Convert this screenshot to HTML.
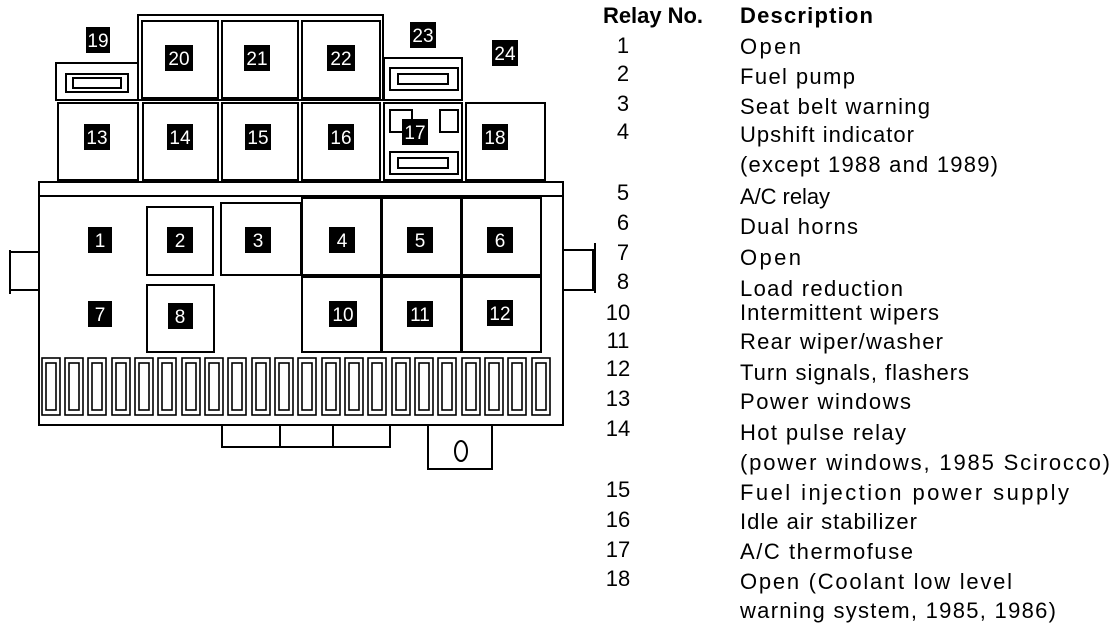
<!DOCTYPE html>
<html><head><meta charset="utf-8"><style>
html,body{margin:0;padding:0;background:#fff;}
svg{display:block}
.t{font-family:"Liberation Sans",sans-serif;font-size:22px;fill:#000}
.b{font-weight:bold}
.lb{font-family:"Liberation Sans",sans-serif;font-size:19px;fill:#fff;text-anchor:middle}
</style></head><body>
<svg width="1120" height="632" viewBox="0 0 1120 632" xmlns="http://www.w3.org/2000/svg">
<g fill="none" stroke="#000" stroke-width="2">
<rect x="138" y="15" width="245" height="85"/>
<rect x="142" y="21" width="76" height="77"/>
<rect x="222" y="21" width="76" height="77"/>
<rect x="302" y="21" width="78" height="77"/>
<rect x="56" y="63" width="82" height="37"/>
<rect x="66" y="74" width="62" height="18"/>
<rect x="73" y="78" width="48" height="10"/>
<rect x="384" y="58" width="78" height="42"/>
<rect x="390" y="68" width="68" height="22"/>
<rect x="398" y="74" width="50" height="10"/>
<rect x="58" y="103" width="80" height="77"/>
<rect x="143" y="103" width="75" height="77"/>
<rect x="222" y="103" width="76" height="77"/>
<rect x="302" y="103" width="78" height="77"/>
<rect x="384" y="103" width="78" height="77"/>
<rect x="390" y="110" width="22" height="22"/>
<rect x="440" y="110" width="18" height="22"/>
<rect x="390" y="152" width="68" height="22"/>
<rect x="398" y="158" width="50" height="10"/>
<rect x="466" y="103" width="79" height="77"/>
<rect x="39" y="182" width="524" height="14"/>
<rect x="39" y="196" width="524" height="229"/>
<rect x="147" y="207" width="66" height="68"/>
<rect x="221" y="203" width="80" height="72"/>
<rect x="302" y="198" width="79" height="77"/>
<rect x="382" y="198" width="79" height="77"/>
<rect x="462" y="198" width="79" height="77"/>
<rect x="147" y="285" width="67" height="67"/>
<rect x="302" y="277" width="79" height="75"/>
<rect x="382" y="277" width="79" height="75"/>
<rect x="462" y="277" width="79" height="75"/>
<path d="M39 252 H10 V290 H39 M10 250 V294"/>
<path d="M563 250 H593 V290 H563 M595 243 V293"/>
<rect x="222" y="425" width="168" height="22"/>
<line x1="280" y1="425" x2="280" y2="447"/><line x1="333" y1="425" x2="333" y2="447"/>
<rect x="428" y="425" width="64" height="44"/>
<ellipse cx="461" cy="451" rx="6" ry="10"/>
</g>
<g fill="none" stroke="#000" stroke-width="1.6">
<rect x="42" y="358" width="18" height="57"/><rect x="46" y="363" width="10" height="47"/>
<rect x="65" y="358" width="18" height="57"/><rect x="69" y="363" width="10" height="47"/>
<rect x="88" y="358" width="18" height="57"/><rect x="92" y="363" width="10" height="47"/>
<rect x="112" y="358" width="18" height="57"/><rect x="116" y="363" width="10" height="47"/>
<rect x="135" y="358" width="18" height="57"/><rect x="139" y="363" width="10" height="47"/>
<rect x="158" y="358" width="18" height="57"/><rect x="162" y="363" width="10" height="47"/>
<rect x="182" y="358" width="18" height="57"/><rect x="186" y="363" width="10" height="47"/>
<rect x="205" y="358" width="18" height="57"/><rect x="209" y="363" width="10" height="47"/>
<rect x="228" y="358" width="18" height="57"/><rect x="232" y="363" width="10" height="47"/>
<rect x="252" y="358" width="18" height="57"/><rect x="256" y="363" width="10" height="47"/>
<rect x="275" y="358" width="18" height="57"/><rect x="279" y="363" width="10" height="47"/>
<rect x="298" y="358" width="18" height="57"/><rect x="302" y="363" width="10" height="47"/>
<rect x="322" y="358" width="18" height="57"/><rect x="326" y="363" width="10" height="47"/>
<rect x="345" y="358" width="18" height="57"/><rect x="349" y="363" width="10" height="47"/>
<rect x="368" y="358" width="18" height="57"/><rect x="372" y="363" width="10" height="47"/>
<rect x="392" y="358" width="18" height="57"/><rect x="396" y="363" width="10" height="47"/>
<rect x="415" y="358" width="18" height="57"/><rect x="419" y="363" width="10" height="47"/>
<rect x="438" y="358" width="18" height="57"/><rect x="442" y="363" width="10" height="47"/>
<rect x="462" y="358" width="18" height="57"/><rect x="466" y="363" width="10" height="47"/>
<rect x="485" y="358" width="18" height="57"/><rect x="489" y="363" width="10" height="47"/>
<rect x="508" y="358" width="18" height="57"/><rect x="512" y="363" width="10" height="47"/>
<rect x="532" y="358" width="18" height="57"/><rect x="536" y="363" width="10" height="47"/>
</g>
<g>
<rect x="86" y="27" width="24" height="26"/><text class="lb" x="98" y="47">19</text>
<rect x="165" y="45" width="28" height="26"/><text class="lb" x="179" y="65">20</text>
<rect x="244" y="45" width="26" height="26"/><text class="lb" x="257" y="65">21</text>
<rect x="327" y="45" width="28" height="26"/><text class="lb" x="341" y="65">22</text>
<rect x="410" y="22" width="26" height="26"/><text class="lb" x="423" y="42">23</text>
<rect x="492" y="40" width="26" height="26"/><text class="lb" x="505" y="60">24</text>
<rect x="84" y="124" width="26" height="26"/><text class="lb" x="97" y="144">13</text>
<rect x="167" y="124" width="26" height="26"/><text class="lb" x="180" y="144">14</text>
<rect x="245" y="124" width="26" height="26"/><text class="lb" x="258" y="144">15</text>
<rect x="328" y="124" width="26" height="26"/><text class="lb" x="341" y="144">16</text>
<rect x="402" y="119" width="26" height="26"/><text class="lb" x="415" y="139">17</text>
<rect x="482" y="124" width="26" height="26"/><text class="lb" x="495" y="144">18</text>
<rect x="88" y="227" width="24" height="26"/><text class="lb" x="100" y="247">1</text>
<rect x="167" y="227" width="26" height="26"/><text class="lb" x="180" y="247">2</text>
<rect x="245" y="227" width="26" height="26"/><text class="lb" x="258" y="247">3</text>
<rect x="329" y="227" width="26" height="26"/><text class="lb" x="342" y="247">4</text>
<rect x="407" y="227" width="26" height="26"/><text class="lb" x="420" y="247">5</text>
<rect x="487" y="227" width="26" height="26"/><text class="lb" x="500" y="247">6</text>
<rect x="88" y="301" width="24" height="26"/><text class="lb" x="100" y="321">7</text>
<rect x="168" y="303" width="25" height="26"/><text class="lb" x="180" y="323">8</text>
<rect x="329" y="301" width="28" height="26"/><text class="lb" x="343" y="321">10</text>
<rect x="407" y="301" width="26" height="26"/><text class="lb" x="420" y="321">11</text>
<rect x="487" y="300" width="26" height="26"/><text class="lb" x="500" y="320">12</text>
</g>
<g class="t">
<text class="t b" x="603" y="23" textLength="100">Relay No.</text>
<text class="t b" x="740" y="23" textLength="133">Description</text>
<g text-anchor="middle">
<text x="623" y="53">1</text><text x="623" y="81">2</text><text x="623" y="111">3</text><text x="623" y="139">4</text>
<text x="623" y="200">5</text><text x="623" y="230">6</text><text x="623" y="260">7</text><text x="623" y="289">8</text>
<text x="618" y="320">10</text><text x="618" y="348">11</text><text x="618" y="376">12</text><text x="618" y="406">13</text>
<text x="618" y="436">14</text><text x="618" y="497">15</text><text x="618" y="527">16</text><text x="618" y="557">17</text><text x="618" y="586">18</text>
</g>
<text x="740" y="54" textLength="61">Open</text>
<text x="740" y="84" textLength="115">Fuel pump</text>
<text x="740" y="114" textLength="190">Seat belt warning</text>
<text x="740" y="142" textLength="174">Upshift indicator</text>
<text x="740" y="172" textLength="258">(except 1988 and 1989)</text>
<text x="740" y="204" textLength="90">A/C relay</text>
<text x="740" y="234" textLength="118">Dual horns</text>
<text x="740" y="265" textLength="61">Open</text>
<text x="740" y="296" textLength="163">Load reduction</text>
<text x="740" y="320" textLength="199">Intermittent wipers</text>
<text x="740" y="349" textLength="203">Rear wiper/washer</text>
<text x="740" y="380" textLength="229">Turn signals, flashers</text>
<text x="740" y="409" textLength="171">Power windows</text>
<text x="740" y="440" textLength="166">Hot pulse relay</text>
<text x="740" y="470" textLength="370">(power windows, 1985 Scirocco)</text>
<text x="740" y="500" textLength="329">Fuel injection power supply</text>
<text x="740" y="529" textLength="177">Idle air stabilizer</text>
<text x="740" y="559" textLength="173">A/C thermofuse</text>
<text x="740" y="589" textLength="272">Open (Coolant low level</text>
<text x="740" y="618" textLength="316">warning system, 1985, 1986)</text>
</g>
</svg>
</body></html>
